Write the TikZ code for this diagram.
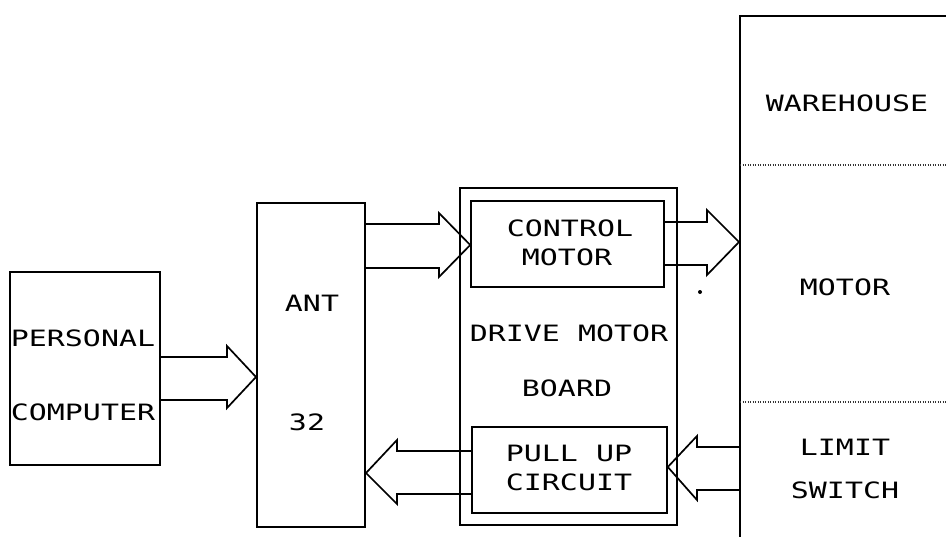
\documentclass[tikz,border=0pt]{standalone}
\usepackage{fontspec}
\newfontfamily\plotfont[FakeStretch=1.33]{DejaVu Sans Mono}
\begin{document}
\begin{tikzpicture}[x=1pt,y=-1pt,
  box/.style={draw,line width=2pt,rectangle,inner sep=0pt},
  arr/.style={draw,line width=1.7pt,line join=miter},
  lbl/.style={inner sep=0pt,font=\plotfont\fontsize{22.5}{26}\selectfont},
  sep/.style={line width=1.3pt,dash pattern=on 1.2pt off 1.3pt,black!80}]
\clip (0,0) rectangle (946,536);
\fill[white] (0,0) rectangle (946,536);
% boxes
\node[box,minimum width=150pt,minimum height=193pt] (pc) at (85,368.5) {};
\node[box,minimum width=108pt,minimum height=324pt] (ant) at (311,365) {};
\node[box,minimum width=217pt,minimum height=337pt] (drv) at (568.5,356.5) {};
\node[box,line width=1.6pt,minimum width=193pt,minimum height=86pt] (ctl) at (567.5,244) {};
\node[box,line width=1.6pt,minimum width=195pt,minimum height=86pt] (pul) at (569.5,470) {};
\node[box,minimum width=230pt,minimum height=560pt,anchor=north west] (wh) at (739,15) {};
\coordinate (d1a) at (740,165);
\coordinate (d1b) at (946,165);
\coordinate (d2a) at (740,402);
\coordinate (d2b) at (946,402);
\draw[sep] (d1a) -- (d1b);
\draw[sep] (d2a) -- (d2b);
% labels
\node[lbl] (t1) at (83,338) {PERSONAL};
\node[lbl] (t2) at (83,412) {COMPUTER};
\node[lbl] (t3) at (312,303) {ANT};
\node[lbl] (t4) at (307,422) {32};
\node[lbl] (t5) at (570,228) {CONTROL};
\node[lbl] (t6) at (567,257) {MOTOR};
\node[lbl] (t7) at (569,333) {DRIVE MOTOR};
\node[lbl] (t8) at (567,388) {BOARD};
\node[lbl] (t9) at (569,453) {PULL UP};
\node[lbl] (t10) at (569,482) {CIRCUIT};
\node[lbl] (t11) at (847,103) {WAREHOUSE};
\node[lbl] (t12) at (845,287) {MOTOR};
\node[lbl] (t13) at (845,447) {LIMIT};
\node[lbl] (t14) at (845,490) {SWITCH};
% arrows
\draw[arr] (pc.east |- 0,357) -- (227,357) -- (227,346) -- (ant.west |- 0,377)
  -- (227,408) -- (227,400) -- (pc.east |- 0,400);
\draw[arr] (ant.east |- 0,224) -- (439,224) -- (439,213) -- (ctl.west |- 0,245)
  -- (439,277) -- (439,268) -- (ant.east |- 0,268);
\draw[arr] (ctl.east |- 0,222) -- (707,222) -- (707,210) -- (wh.west |- 0,242)
  -- (707,275) -- (707,265) -- (ctl.east |- 0,265);
\draw[arr] (wh.west |- 0,447) -- (697,447) -- (697,436) -- (pul.east |- 0,467)
  -- (697,500) -- (697,490) -- (wh.west |- 0,490);
\draw[arr] (pul.west |- 0,451) -- (397,451) -- (397,440) -- (ant.east |- 0,473)
  -- (397,504) -- (397,494) -- (pul.west |- 0,494);
\fill (700,292) circle (2pt);
\end{tikzpicture}
\end{document}
